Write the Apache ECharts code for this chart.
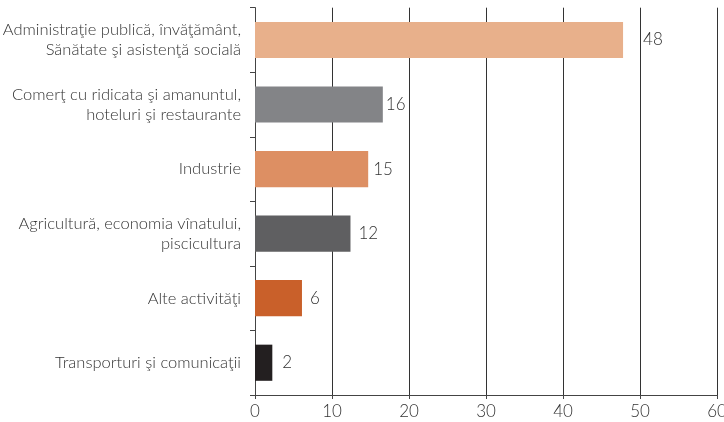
<!DOCTYPE html>
<html>
<head>
<meta charset="utf-8">
<script src="https://cdn.jsdelivr.net/npm/echarts@6/dist/echarts.min.js"></script>
<style>
  html, body { margin: 0; padding: 0; background: #fff; }
  #chart { width: 724px; height: 422px; }
</style>
</head>
<body>
<div id="chart"></div>
<script>
// data
var categories = [
  'Administraţie publică, învăţământ,\nSănătate şi asistenţă socială',
  'Comerţ cu ridicata şi amanuntul,\nhoteluri şi restaurante',
  'Industrie',
  'Agricultură, economia vînatului,\npiscicultura',
  'Alte activităţi',
  'Transporturi şi comunicaţii'
]
var values = [47.8, 16.6, 14.7, 12.4, 6.1, 2.25]
var valueLabels = ['48', '16', '15', '12', '6', '2']
var xTicks = [0, 10, 20, 30, 40, 50, 60]

// styling
var barColors = ['#e8b08b', '#838487', '#dd8f63', '#5f5f61', '#c9602a', '#231f20']
var labelGaps = [20, 3, 5, 8, 8, 10]

var chart = echarts.init(document.getElementById('chart'))

var font = 'Lato, "Noto Sans", sans-serif'

chart.setOption({
  animation: false,
  textStyle: { fontFamily: font },
  grid: {
    left: 255,
    right: 7,
    top: 7.7,
    bottom: 27,
    containLabel: false,
    outerBoundsMode: 'none'
  },
  xAxis: {
    type: 'value',
    min: xTicks[0],
    max: xTicks[xTicks.length - 1],
    interval: 10,
    axisLine: { show: true, lineStyle: { color: '#444', width: 1 } },
    axisTick: { show: true, length: 4, lineStyle: { color: '#444' } },
    axisLabel: {
      color: '#333',
      fontSize: 17,
      fontWeight: 300,
      fontFamily: font,
      margin: 8
    },
    splitLine: { show: true, lineStyle: { color: '#333', width: 1 } }
  },
  yAxis: {
    type: 'category',
    inverse: true,
    data: categories,
    axisLine: { show: true, lineStyle: { color: '#444', width: 1 } },
    axisTick: { show: true, length: 5, lineStyle: { color: '#444' } },
    axisLabel: {
      color: '#333',
      fontSize: 16.5,
      fontWeight: 300,
      fontFamily: font,
      lineHeight: 20,
      align: 'right',
      margin: 14
    }
  },
  series: [
    {
      type: 'bar',
      barWidth: '56%',
      data: values.map(function (v, i) {
        return {
          value: v,
          itemStyle: { color: barColors[i] },
          label: { distance: labelGaps[i] }
        }
      }),
      label: {
        show: true,
        position: 'right',
        color: '#333',
        fontSize: 17,
        fontWeight: 300,
        fontFamily: font,
        formatter: function (p) {
          return valueLabels[p.dataIndex]
        }
      }
    }
  ]
})
</script>
</body>
</html>
